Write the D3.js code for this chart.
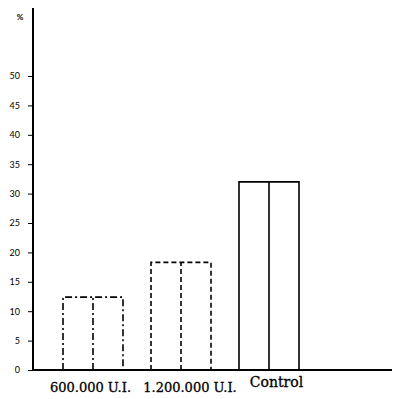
<!DOCTYPE html>
<html>
<head>
<meta charset="utf-8">
<script src="https://cdn.jsdelivr.net/npm/d3@7"></script>
<style>
  body { margin: 0; background: #fff; }
</style>
</head>
<body>
<svg id="chart"></svg>
<script>
var categories = ["600.000 U.I.", "1.200.000 U.I.", "Control"];
var values = [12.4, 18.3, 32.0];
var tickValues = [0, 5, 10, 15, 20, 25, 30, 35, 40, 45, 50];

var width = 400
var height = 399

var svg = d3.select('#chart')
            .attr("width", width)
            .attr("height", height);

// y: 0 at 370, 50 at 76
var y = d3.scaleLinear()
    .domain([0, 50])
    .range([370, 76]);

var x = d3.scaleBand()
    .domain(categories)
    .range([33, 329])
    .paddingInner(28 / 88)
    .paddingOuter(30 / 88);

var dashes = ["7,3,2,3", "5,3", null];

// bars: outline + middle line
var bars = svg.append("g")
    .selectAll("g")
    .data(categories)
    .join("g");

bars.append("path")
    .attr("d", function(d, i) {
      var x0 = x(d), x1 = x(d) + x.bandwidth();
      return "M" + x0 + "," + y(0) + "V" + y(values[i]) + "H" + x1 + "V" + y(0);
    })
    .attr("fill", "none")
    .attr("stroke", "#000")
    .attr("stroke-width", 1.6)
    .attr("stroke-dasharray", (d, i) => dashes[i]);

bars.append("line")
    .attr("x1", d => x(d) + x.bandwidth() / 2)
    .attr("x2", d => x(d) + x.bandwidth() / 2)
    .attr("y1", y(0))
    .attr("y2", (d, i) => y(values[i]))
    .attr("stroke", "#000")
    .attr("stroke-width", 1.6)
    .attr("stroke-dasharray", (d, i) => dashes[i]);

// y axis
var yAxis = d3.axisLeft(y)
    .tickValues(tickValues)
    .tickSize(5)
    .tickPadding(8);

var gy = svg.append("g")
    .attr("transform", "translate(33,0)")
    .call(yAxis);

gy.select(".domain").remove();
gy.selectAll(".tick line").attr("stroke", "#000").attr("stroke-width", 1);
gy.selectAll(".tick text")
    .attr("font-family", "Lato, sans-serif")
    .attr("font-size", 9)
    .attr("fill", "#000");

svg.append("line")
    .attr("x1", 33).attr("x2", 33)
    .attr("y1", 8).attr("y2", y(0) + 1)
    .attr("stroke", "#000")
    .attr("stroke-width", 2);

svg.append("line")
    .attr("x1", 32).attr("x2", 392)
    .attr("y1", y(0)).attr("y2", y(0))
    .attr("stroke", "#000")
    .attr("stroke-width", 2);

svg.append("text")
    .attr("x", 20)
    .attr("y", 20)
    .attr("text-anchor", "middle")
    .attr("font-family", "Lato, sans-serif")
    .attr("font-size", 8)
    .attr("font-weight", "bold")
    .text("%");

// category labels (not quite centred under the bars in the original)
var labelShift = {"600.000 U.I.": -2.5, "1.200.000 U.I.": 9, "Control": 7.5};

svg.append("g")
    .selectAll("text")
    .data(categories)
    .join("text")
    .attr("x", d => x(d) + x.bandwidth() / 2 + labelShift[d])
    .attr("y", d => d == "Control" ? 387 : 392)
    .attr("text-anchor", "middle")
    .attr("font-family", "'DejaVu Serif', serif")
    .attr("font-size", d => d == "Control" ? 14 : 13)
    .attr("fill", "#000")
    .attr("stroke", "#000")
    .attr("stroke-width", 0.3)
    .text(d => d);
</script>
</body>
</html>
